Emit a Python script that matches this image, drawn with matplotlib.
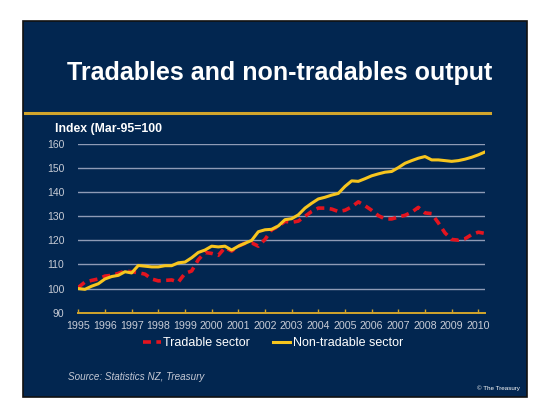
import numpy as np
import matplotlib
matplotlib.use("Agg")
import matplotlib.pyplot as plt
from matplotlib.patches import Rectangle
from matplotlib.lines import Line2D

plt.rcParams['font.family'] = ['Liberation Sans', 'DejaVu Sans']

# quarterly, Mar-1995 to Jun-2010
quarters = 1995 + 0.25 * np.arange(62)

non_tradable = [100, 99.7, 101, 102, 104, 105, 105.5, 107,
                106.5, 109.6, 109.3, 109, 109, 109.5, 109.5, 110.7,
                111, 112.8, 115, 116, 117.6, 117.3, 117.6, 116,
                117.6, 118.8, 120, 123.6, 124.4, 124.6, 126, 128.6,
                129, 130.6, 133.4, 135.4, 137.2, 137.9, 138.8, 139.5,
                142.4, 144.7, 144.5, 145.6, 146.8, 147.6, 148.3, 148.6,
                150.2, 152.0, 153.1, 154.1, 154.8, 153.4, 153.4, 153.1,
                152.8, 153.1, 153.7, 154.5, 155.5, 156.7]

tradable = [100.5, 102.7, 103.4, 104, 105.2, 105.5, 106.3, 107.3,
            107, 106.6, 106, 104, 103.2, 103.4, 103.6, 102.7,
            106.3, 107.3, 112, 115, 114.6, 113.8, 117, 115.6,
            117.6, 118.8, 119, 117.6, 120.4, 124.4, 125.8, 127.9,
            127.5, 128, 130, 132, 133.4, 133.4, 133, 132,
            132.5, 133.9, 136, 134.4, 132.5, 130.3, 128.9, 128.9,
            129.7, 130.4, 131.7, 133.7, 131.4, 131.1, 127.3, 123.1,
            120.4, 120.1, 120.7, 122.4, 123.4, 122.9]

years = list(range(1995, 2011))
yticks = list(range(90, 161, 10))

navy = '#022650'
gold = '#d2a52c'
W, H = 550, 420

fig = plt.figure(figsize=(5.5, 4.2), dpi=100, facecolor='white')

# dark slide panel
fig.add_artist(Rectangle((23 / W, 1 - 397 / H), 504 / W, 376 / H,
                         transform=fig.transFigure, facecolor=navy,
                         edgecolor='#111111', linewidth=1.2, zorder=-5))
# gold rule under the title
fig.add_artist(Line2D([25 / W, 490 / W], [1 - 113 / H, 1 - 113 / H],
                      transform=fig.transFigure, color=gold, linewidth=2.2))

fig.text(280 / W, 1 - 73 / H, "Tradables and non-tradables output",
         color='white', fontsize=18, fontweight='bold', ha='center', va='center')
fig.text(55 / W, 1 - 129 / H, "Index (Mar-95=100", color='white',
         fontsize=8.8, fontweight='bold', ha='left', va='center')
fig.text(68 / W, 1 - 377 / H, "Source: Statistics NZ, Treasury",
         color='#c4c8d4', fontsize=7.1, style='italic', ha='left', va='center')
fig.text(520 / W, 1 - 388 / H, "\u00a9 The Treasury", color='white',
         fontsize=4.5, ha='right', va='center')

ax = fig.add_axes([78.3 / W, 1 - 312.7 / H, 406.7 / W, 168.7 / H])
ax.set_facecolor('none')

ax.plot(quarters, tradable, color='#e3141f', linewidth=2.6,
        dashes=(2.2, 1.5), label='Tradable sector', zorder=3)
ax.plot(quarters, non_tradable, color='#f7c51e', linewidth=2.2,
        label='Non-tradable sector', zorder=4)

ax.set_xlim(1995, 2010.25)
ax.set_ylim(90, 160)
ax.set_yticks(yticks)
ax.set_xticks(years)
ax.set_xticklabels([str(y) for y in years])

for s in ['top', 'right', 'left']:
    ax.spines[s].set_visible(False)
ax.spines['bottom'].set_color(gold)
ax.spines['bottom'].set_linewidth(1.4)

ax.grid(axis='y', color='#8e9bb6', linewidth=1.0)
ax.set_axisbelow(True)
ax.tick_params(axis='y', length=0, pad=10, labelsize=7.5, labelcolor='#c8ccd6')
ax.tick_params(axis='x', direction='in', length=3, width=1, color=gold,
               pad=6, labelsize=7.7, labelcolor='#c8ccd6')

leg = ax.legend(loc='center', bbox_to_anchor=(0.479, -0.181), ncol=2,
                frameon=False, fontsize=9, handlelength=1.4,
                handletextpad=0.2, columnspacing=1.8, borderaxespad=0)
for t in leg.get_texts():
    t.set_color('white')

fig.savefig('out.png', dpi=100, facecolor='white')
